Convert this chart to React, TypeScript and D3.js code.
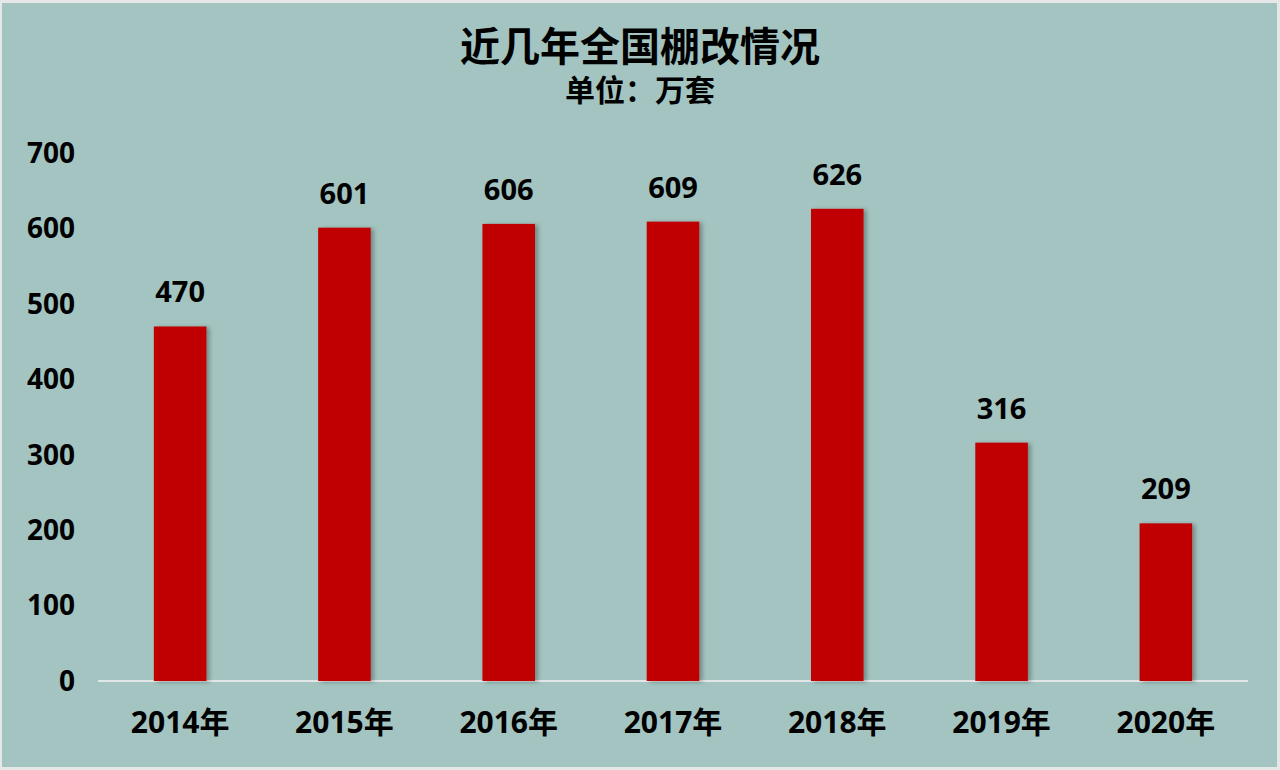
import React from "react";
import * as d3 from "d3";

const categories = ["2014年", "2015年", "2016年", "2017年", "2018年", "2019年", "2020年"];
const values = [470, 601, 606, 609, 626, 316, 209];
const yTicks = [0, 100, 200, 300, 400, 500, 600, 700];
const title = "近几年全国棚改情况";
const subtitle = "单位：万套";

const W = 1280;
const H = 770;
const FONT = "'Open Sans', 'Noto Sans CJK SC', sans-serif";

export default function App() {
  const x = d3.scaleBand<string>().domain(categories).range([98, 1248]).paddingInner(0.68).paddingOuter(0.34);
  const y = d3.scaleLinear().domain([0, 700]).range([681, 153]);
  return (
    <svg width={W} height={H} style={{ position: "absolute", left: 0, top: 0 }} fontFamily={FONT}>
      <defs>
        <filter id="sh" x="-20%" y="-20%" width="150%" height="130%">
          <feDropShadow dx="3" dy="1" stdDeviation="2" floodColor="#000" floodOpacity="0.3" />
        </filter>
      </defs>
      <rect x={0} y={0} width={W} height={H} fill="#e6e8e8" />
      <rect x={2} y={3} width={W - 5} height={H - 6} fill="#a3c4c0" />
      <text x={640} y={61} textAnchor="middle" fontSize={40} fontWeight="bold" fill="#000">{title}</text>
      <text x={640} y={101} textAnchor="middle" fontSize={30} fontWeight="bold" fill="#000">{subtitle}</text>
      {yTicks.map((t) => (
        <text key={t} x={75} y={y(t)} dy="0.35em" textAnchor="end" fontSize={28} fontWeight="bold" fill="#000">{t}</text>
      ))}
      <line x1={98} x2={1248} y1={y(0)} y2={y(0)} stroke="#e2e6e6" strokeWidth={2} />
      {categories.map((c, i) => (
        <g key={c}>
          <rect x={x(c)} y={y(values[i])} width={x.bandwidth()} height={y(0) - y(values[i])} fill="#c00000" filter="url(#sh)" />
          <text x={x(c)! + x.bandwidth() / 2} y={y(values[i]) - 24} textAnchor="middle" fontSize={29} fontWeight="bold" fill="#000">{values[i]}</text>
          <text x={x(c)! + x.bandwidth() / 2} y={733} textAnchor="middle" fontSize={30} fontWeight="bold" fill="#000">{c}</text>
        </g>
      ))}
    </svg>
  );
}
